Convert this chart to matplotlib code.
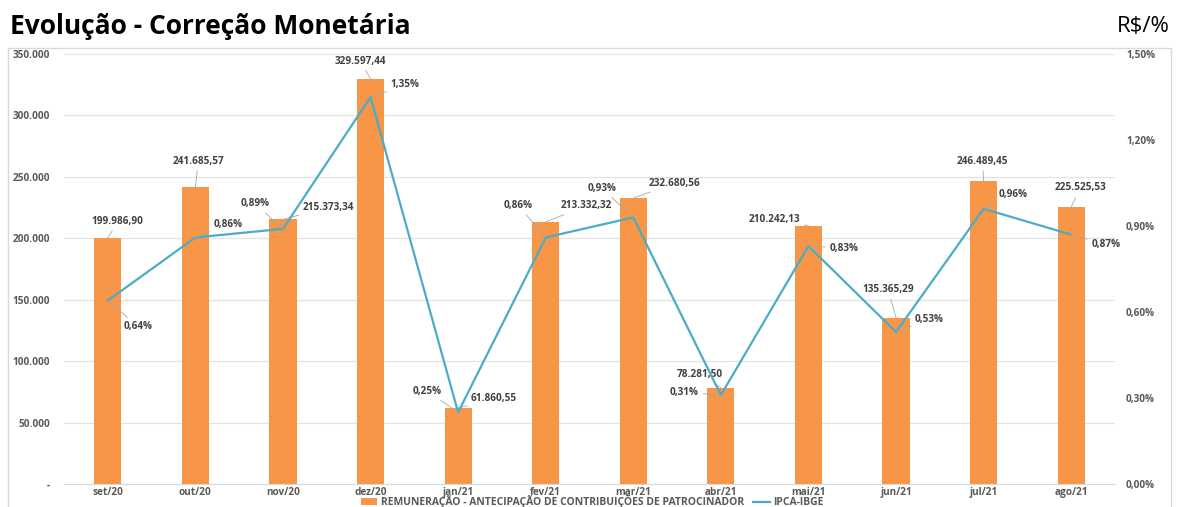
import matplotlib
matplotlib.use("Agg")
import matplotlib.pyplot as plt
from matplotlib.patches import Patch, Rectangle
from matplotlib.lines import Line2D
from matplotlib.ticker import FuncFormatter

plt.rcParams['font.family'] = ['Open Sans', 'DejaVu Sans']

categories = ["set/20", "out/20", "nov/20", "dez/20", "jan/21", "fev/21",
              "mar/21", "abr/21", "mai/21", "jun/21", "jul/21", "ago/21"]
remuneracao = [199986.90, 241685.57, 215373.34, 329597.44, 61860.55, 213332.32,
               232680.56, 78281.50, 210242.13, 135365.29, 246489.45, 225525.53]
ipca = [0.64, 0.86, 0.89, 1.35, 0.25, 0.86, 0.93, 0.31, 0.83, 0.53, 0.96, 0.87]
bar_name = "REMUNERAÇÃO - ANTECIPAÇÃO DE CONTRIBUIÇÕES DE PATROCINADOR"
line_name = "IPCA-IBGE"

# label offsets in pixels (dx, dy, ha)
bar_off = [(10, 17, 'center'), (3, 26, 'center'), (20, 12, 'left'), (-10, 18, 'center'),
           (13, 9, 'left'), (15, 16, 'left'), (15, 15, 'left'), (-21, 13, 'center'),
           (-34, 6, 'center'), (-8, 28, 'center'), (-1, 20, 'center'), (9, 19, 'center')]
pct_off = [(16, -26, 'left'), (18, 13, 'left'), (-13, 25, 'right'), (20, 12, 'left'),
           (-16, 21, 'right'), (-13, 32, 'right'), (-17, 29, 'right'), (-22, 3, 'right'),
           (21, -2, 'left'), (19, 13, 'left'), (15, 14, 'left'), (20, -10, 'left')]

BAR_C = '#F79646'
LINE_C = '#4BACC6'
TXT = '#404040'
TICK = '#595959'

def br(v):
    s = f"{v:,.2f}"
    return s.replace(',', 'X').replace('.', ',').replace('X', '.')

W, H = 1177, 507
fig = plt.figure(figsize=(W / 100, H / 100), dpi=100)
fig.patch.set_facecolor('white')
fig.patches.append(Rectangle((8 / W, -0.01), (1171 - 8) / W, 1 - 48 / H + 0.01,
                             transform=fig.transFigure, fill=False,
                             edgecolor='#D9D9D9', lw=1.0))

ax = fig.add_axes([64 / W, 1 - 484 / H, (1115 - 64) / W, (484 - 54) / H])
x = list(range(len(categories)))
ax.bar(x, remuneracao, width=0.31, color=BAR_C, zorder=2)
ax.set_ylim(0, 350000)
ax.set_xlim(-0.5, len(categories) - 0.5)
ax.set_yticks([i * 50000 for i in range(8)])
ax.yaxis.set_major_formatter(FuncFormatter(
    lambda v, p: '-' if v == 0 else f"{int(v):,}".replace(',', '.')))
ax.set_xticks(x)
ax.set_xticklabels(categories)
ax.grid(axis='y', color='#E3E3E3', lw=0.9, zorder=0)
ax.set_axisbelow(True)
for s in ['top', 'left', 'right']:
    ax.spines[s].set_visible(False)
ax.spines['bottom'].set_color('#D9D9D9')
ax.tick_params(axis='both', length=0, labelsize=7.2, colors=TICK)
ax.tick_params(axis='y', pad=10)
ax.tick_params(axis='x', pad=2)
for t in ax.get_xticklabels() + ax.get_yticklabels():
    t.set_fontweight('bold')

ax2 = ax.twinx()
ax2.plot(x, ipca, color=LINE_C, lw=1.6, zorder=3)
ax2.set_ylim(0, 1.5)
ax2.set_yticks([0, 0.3, 0.6, 0.9, 1.2, 1.5])
ax2.yaxis.set_major_formatter(FuncFormatter(lambda v, p: f"{v:.2f}%".replace('.', ',')))
for s in ['top', 'left', 'right', 'bottom']:
    ax2.spines[s].set_visible(False)
ax2.tick_params(axis='y', length=0, labelsize=7.2, colors=TICK, pad=8)
for t in ax2.get_yticklabels():
    t.set_fontweight('bold')

lead = dict(arrowstyle='-', color='#A6A6A6', lw=0.6, shrinkA=1, shrinkB=0)
for i, v in enumerate(remuneracao):
    dx, dy, ha = bar_off[i]
    ax.annotate(br(v), xy=(i, v), xytext=(dx, dy), textcoords='offset pixels',
                ha=ha, va='center', fontsize=7.2, color=TXT, fontweight='bold',
                arrowprops=lead, zorder=5)
for i, v in enumerate(ipca):
    dx, dy, ha = pct_off[i]
    ax2.annotate(f"{v:.2f}%".replace('.', ','), xy=(i, v), xytext=(dx, dy),
                 textcoords='offset pixels', ha=ha, va='center', fontsize=7.2,
                 color=TXT, fontweight='bold', arrowprops=lead, zorder=5)

handles = [Patch(facecolor=BAR_C, edgecolor='none'),
           Line2D([0], [0], color=LINE_C, lw=1.6)]
leg = fig.legend(handles, [bar_name, line_name], loc='center',
                 bbox_to_anchor=(592 / W, 1 - 501.5 / H), ncol=2, frameon=False,
                 fontsize=7.5, handlelength=1.6, handleheight=0.6,
                 handletextpad=0.3, columnspacing=0.9, borderpad=0)
for t in leg.get_texts():
    t.set_color(TICK)
    t.set_fontweight('bold')

fig.text(10 / W, 1 - 27 / H, "Evolução - Correção Monetária", fontsize=19,
         fontweight='bold', color='black', ha='left', va='center')
fig.text(1170 / W, 1 - 27 / H, "R$/%", fontsize=16, color='black',
         ha='right', va='center')

fig.savefig('out.png', dpi=100)
